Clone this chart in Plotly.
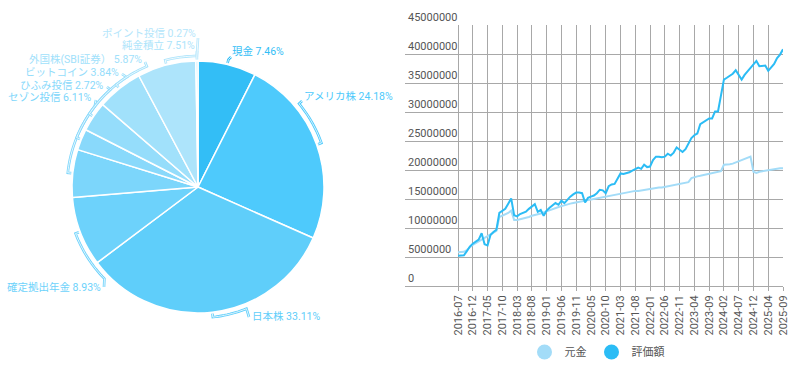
import math
import plotly.graph_objects as go

# ---------------- data ----------------
pie_labels = ["現金", "アメリカ株", "日本株", "確定拠出年金", "セゾン投信",
              "ひふみ投信", "ビットコイン", "外国株(SBI証券）", "純金積立", "ポイント投信"]
pie_values = [7.46, 24.18, 33.11, 8.93, 6.11, 2.72, 3.84, 5.87, 7.51, 0.27]

tick_labels = ["2016-07", "2016-12", "2017-05", "2017-10", "2018-03", "2018-08",
               "2019-01", "2019-06", "2019-11", "2020-05", "2020-10", "2021-03",
               "2021-08", "2022-01", "2022-06", "2022-11", "2023-04", "2023-09",
               "2024-02", "2024-07", "2024-12", "2025-04", "2025-09"]

# 評価額 (valuation), millions of yen
valuation_m = [5.2, 5.2, 5.3, 6.0, 6.8, 7.3, 7.6, 8.0, 9.1, 7.2,
               7.0, 8.8, 9.3, 9.7, 12.6, 13.0, 13.3, 14.2, 15.1, 12.2,
               12.0, 12.4, 12.6, 12.8, 13.3, 13.7, 14.1, 12.8, 13.1, 12.1,
               13.0, 13.5, 13.9, 14.3, 14.0, 14.7, 14.3, 14.9, 15.4, 15.8,
               16.1, 16.1, 16.0, 14.4, 15.2, 15.4, 15.6, 16.0, 16.6, 16.5,
               16.0, 17.2, 17.5, 17.6, 18.5, 19.4, 19.3, 19.4, 19.6, 19.9,
               20.1, 20.4, 20.2, 20.9, 20.5, 20.6, 21.7, 22.3, 22.3, 22.2,
               22.3, 22.8, 22.5, 23.0, 23.9, 23.5, 23.1, 23.6, 24.5, 25.5,
               26.0, 26.3, 27.9, 28.2, 28.6, 28.9, 28.9, 30.1, 30.1, 32.9,
               35.6, 35.9, 36.3, 36.6, 37.2, 36.4, 35.6, 36.4, 37.0, 37.5,
               38.1, 38.8, 37.9, 38.0, 38.0, 37.1, 37.7, 38.3, 39.3, 39.9,
               40.8]

# 元金 (principal), millions of yen
principal_m = [5.8, 5.8, 5.9, 6.2, 6.7, 7.1, 7.4, 7.7, 8.0, 8.3,
               8.6, 8.9, 9.2, 9.5, 11.9, 12.1, 12.3, 12.6, 13.0, 11.4,
               11.4, 11.5, 11.6, 11.8, 11.9, 12.1, 12.2, 12.4, 12.5, 12.7,
               12.9, 13.1, 13.3, 13.5, 13.6, 13.8, 13.9, 14.1, 14.2, 14.3,
               14.4, 14.5, 14.6, 14.7, 14.8, 14.9, 15.0, 15.1, 15.2, 15.3,
               15.5, 15.6, 15.7, 15.8, 15.9, 16.0, 16.1, 16.2, 16.2, 16.3,
               16.4, 16.4, 16.5, 16.6, 16.6, 16.7, 16.8, 16.9, 17.0, 17.0,
               17.1, 17.2, 17.3, 17.4, 17.5, 17.6, 17.7, 17.8, 17.9, 18.6,
               18.8, 18.9, 19.0, 19.1, 19.2, 19.3, 19.4, 19.5, 19.7, 19.8,
               20.9, 20.9, 21.0, 21.1, 21.3, 21.6, 21.8, 22.0, 22.2, 22.3,
               19.7, 19.5, 19.7, 19.8, 19.9, 20.0, 20.0, 20.1, 20.2, 20.3,
               20.3]

series_names = ["元金", "評価額"]

# ---------------- styling ----------------
W, H = 800, 373
FONT = "Roboto, 'Noto Sans CJK JP', sans-serif"
slice_colors = ["#33bef6", "#4ecafc", "#5fcefa", "#6dd2fb", "#7cd6fb",
                "#89d9fb", "#95ddfb", "#a1e1fb", "#ade4fb", "#bbe9fc"]
label_colors = ["#33bef6", "#4ecafc", "#5fcefa", "#6dd2fb", "#7cd6fb",
                "#89d9fb", "#95ddfb", "#a1e1fb", "#ade4fb", "#b5e6fb"]
principal_color = "#a3dcf8"
valuation_color = "#2bbcf5"

cx, cy, R = 198, 187, 126
# leader styling: angle where the arc ends, text anchor, leader end point
label_angle = [None, 50.5, 158.3, 225.6, 308.0, 318.0, 327.0, 337.0, 359.5, None]
label_pos = [(230, 52, "left"), (302, 97, "left"), (250, 316, "left"), (103, 287, "right"),
             (94, 98, "right"), (106, 85, "right"), (121, 72, "right"), (144, 59, "right"),
             (197, 46, "right"), (198, 33, "right")]
leader_end = [(231, 57), (302, 101), (249, 317), (104, 287), (96, 100), (107, 87),
              (122, 74), (145, 62), (197, 51), (198, 38)]


def P(px, py):
    return px / W, 1 - py / H


def polar(theta_deg, r):
    t = math.radians(theta_deg)
    return cx + r * math.sin(t), cy - r * math.cos(t)


fig = go.Figure()

fig.add_trace(go.Pie(
    labels=pie_labels, values=pie_values, sort=False, direction="clockwise",
    rotation=0, textinfo="none", hoverinfo="label+percent",
    marker=dict(colors=slice_colors, line=dict(color="white", width=1.5)),
    domain=dict(x=[(cx - R) / W, (cx + R) / W], y=[1 - (cy + R) / H, 1 - (cy - R) / H]),
    showlegend=False,
))

# arcs / leaders / labels derived from the data angles
shapes = []
annotations = []
total = sum(pie_values)
cum = 0.0
for i, v in enumerate(pie_values):
    mid = 360 * (cum + v / 2) / total
    cum += v
    la = label_angle[i] if label_angle[i] is not None else mid
    pts = []
    pts.append(polar(mid, R + 1.5))
    n = max(2, int(abs(la - mid) / 1.5) + 2)
    for k in range(n + 1):
        pts.append(polar(mid + (la - mid) * k / n, R + 5))
    pts.append(leader_end[i])
    path = "M " + " L ".join("%.5f,%.5f" % P(x, y) for x, y in pts)
    shapes.append(dict(type="path", path=path, xref="paper", yref="paper",
                       line=dict(color=label_colors[i], width=2.6), layer="above"))
    shapes.append(dict(type="path", path=path, xref="paper", yref="paper",
                       line=dict(color="white", width=0.8), layer="above"))
    tx, ty, side = label_pos[i]
    ax, ay = P(tx, ty)
    annotations.append(dict(
        x=ax, y=ay, xref="paper", yref="paper", xanchor=side, yanchor="middle",
        showarrow=False, text="%s %.2f%%" % (pie_labels[i], v),
        font=dict(family=FONT, size=10.5, color=label_colors[i])))

# ---------------- line chart ----------------
n_pts = len(valuation_m)
xs = list(range(n_pts))
tickvals = list(range(0, n_pts, 5))

fig.add_trace(go.Scatter(x=xs, y=[v * 1e6 for v in principal_m], mode="lines",
                         name=series_names[0], line=dict(color=principal_color, width=2),
                         xaxis="x", yaxis="y", showlegend=False))
fig.add_trace(go.Scatter(x=xs, y=[v * 1e6 for v in valuation_m], mode="lines",
                         name=series_names[1], line=dict(color=valuation_color, width=2),
                         xaxis="x", yaxis="y", showlegend=False))
fig.add_trace(go.Scatter(x=[None], y=[None], mode="markers", name=series_names[0],
                         marker=dict(size=15, color=principal_color), showlegend=True))
fig.add_trace(go.Scatter(x=[None], y=[None], mode="markers", name=series_names[1],
                         marker=dict(size=15, color=valuation_color), showlegend=True))

px_left, px_first, px_right = 405, 458, 783
units_per_px = (n_pts - 1) / (px_right - px_first)
x_min = -(px_first - px_left) * units_per_px

fig.update_layout(
    width=W, height=H, margin=dict(l=0, r=0, t=0, b=0, autoexpand=False),
    paper_bgcolor="white", plot_bgcolor="white",
    font=dict(family=FONT, size=11, color="#555"),
    shapes=shapes, annotations=annotations,
    xaxis=dict(domain=[px_left / W, px_right / W], range=[x_min, n_pts - 1],
               tickmode="array", tickvals=tickvals, ticktext=tick_labels,
               tickangle=-90, showgrid=True, gridcolor="#a8a8a8", gridwidth=1,
               zeroline=False, showline=False, ticks="outside", ticklen=4,
               tickcolor="#a8a8a8", tickfont=dict(size=11, color="#555"),
               automargin=False),
    yaxis=dict(domain=[1 - 286 / H, 1 - 25 / H], range=[0, 45e6],
               tickmode="linear", tick0=0, dtick=5e6, tickformat="d",
               ticklabelposition="inside top", ticklabeloverflow="allow",
               showgrid=True, gridcolor="#a8a8a8", gridwidth=1,
               zeroline=True, zerolinecolor="#a8a8a8", zerolinewidth=1,
               showline=False, tickfont=dict(size=11, color="#555"),
               automargin=False),
    legend=dict(orientation="h", x=597 / W, xanchor="center", y=1 - 352 / H,
                yanchor="middle", font=dict(size=11, color="#555"),
                itemwidth=30, bgcolor="rgba(0,0,0,0)"),
    hovermode="closest",
)

fig.write_html("out.html", config={"displayModeBar": False},
               post_script="document.body.style.margin='0px';document.body.style.padding='0px';")
